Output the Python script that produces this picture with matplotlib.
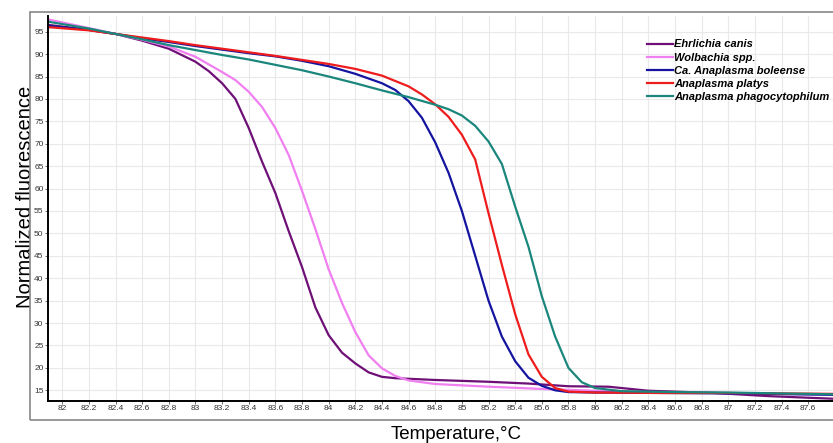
import numpy as np
import matplotlib
matplotlib.use('Agg')
import matplotlib.pyplot as plt
from matplotlib.patches import Rectangle

plt.rcParams['font.family'] = ['Liberation Sans', 'DejaVu Sans']

# melt curves
canis_t = [81.9, 82.2, 82.4, 82.6, 82.8, 83.0, 83.1, 83.2, 83.3, 83.4, 83.5, 83.6, 83.7, 83.8, 83.9,
           84.0, 84.1, 84.2, 84.3, 84.4, 84.5, 84.8, 85.2, 85.5, 85.8, 86.1, 86.4, 86.9, 87.3, 87.8]
canis_v = [96.5, 95.4, 94.5, 93.0, 91.2, 88.3, 86.2, 83.5, 80.0, 73.5, 66.0, 59.0, 50.5, 42.5, 33.5,
           27.3, 23.4, 21.0, 19.0, 18.0, 17.7, 17.3, 16.9, 16.5, 15.9, 15.8, 14.9, 14.4, 13.7, 13.1]

wolb_t = [81.9, 82.2, 82.4, 82.6, 82.8, 83.0, 83.2, 83.3, 83.4, 83.5, 83.6, 83.7, 83.8, 83.9, 84.0,
          84.1, 84.2, 84.3, 84.4, 84.5, 84.6, 84.8, 85.2, 85.6, 86.0, 86.4, 87.0, 87.8]
wolb_v = [97.7, 95.8, 94.5, 93.2, 91.7, 89.4, 86.0, 84.2, 81.6, 78.2, 73.5, 67.5, 59.5, 51.0, 42.0,
          34.5, 28.0, 22.8, 19.9, 18.2, 17.2, 16.4, 15.8, 15.3, 14.9, 14.6, 14.4, 14.0]

bol_t = [81.9, 82.2, 82.4, 82.6, 82.8, 83.0, 83.2, 83.4, 83.6, 83.8, 84.0, 84.2, 84.4, 84.5, 84.6,
         84.7, 84.8, 84.9, 85.0, 85.1, 85.2, 85.3, 85.4, 85.5, 85.6, 85.7, 85.8, 86.0, 86.5, 87.0, 87.8]
bol_v = [96.3, 95.4, 94.5, 93.5, 92.7, 91.8, 91.0, 90.2, 89.5, 88.5, 87.3, 85.6, 83.5, 82.0, 79.5,
         75.8, 70.3, 63.5, 55.0, 45.0, 35.0, 27.0, 21.5, 17.8, 16.0, 15.0, 14.6, 14.5, 14.4, 14.3, 14.0]

platys_t = [81.9, 82.2, 82.4, 82.6, 82.8, 83.0, 83.2, 83.4, 83.6, 83.8, 84.0, 84.2, 84.4, 84.6, 84.7,
            84.8, 84.9, 85.0, 85.1, 85.2, 85.3, 85.4, 85.5, 85.6, 85.7, 85.8, 86.0, 86.5, 87.0, 87.8]
platys_v = [96.0, 95.3, 94.5, 93.7, 92.9, 92.0, 91.2, 90.4, 89.6, 88.7, 87.8, 86.7, 85.2, 82.8, 81.0,
            78.8, 76.0, 72.0, 66.5, 54.5, 43.0, 32.0, 23.0, 18.0, 15.5, 14.7, 14.5, 14.4, 14.4, 14.2]

phago_t = [81.9, 82.2, 82.4, 82.6, 82.8, 83.0, 83.2, 83.4, 83.6, 83.8, 84.0, 84.2, 84.4, 84.6, 84.8,
           84.9, 85.0, 85.1, 85.2, 85.3, 85.4, 85.5, 85.6, 85.7, 85.8, 85.9, 86.0, 86.2, 86.6, 87.0, 87.4, 87.8]
phago_v = [97.2, 95.7, 94.5, 93.3, 92.0, 90.9, 89.8, 88.8, 87.6, 86.4, 85.0, 83.5, 81.9, 80.4, 78.7,
           77.7, 76.3, 74.0, 70.5, 65.5, 56.0, 47.0, 36.0, 27.0, 20.0, 16.8, 15.5, 14.8, 14.6, 14.5, 14.3, 14.1]

names = ['Ehrlichia canis', 'Wolbachia spp.', 'Ca. Anaplasma boleense', 'Anaplasma platys',
         'Anaplasma phagocytophilum']
colors = ['#6e1076', '#f07ff0', '#1414a0', '#ee1c1c', '#1a867c']

xticks = [82, 82.2, 82.4, 82.6, 82.8, 83, 83.2, 83.4, 83.6, 83.8, 84, 84.2, 84.4, 84.6, 84.8, 85,
          85.2, 85.4, 85.6, 85.8, 86, 86.2, 86.4, 86.6, 86.8, 87, 87.2, 87.4, 87.6]
yticks = [15, 20, 25, 30, 35, 40, 45, 50, 55, 60, 65, 70, 75, 80, 85, 90, 95]

fig = plt.figure(figsize=(8.33, 4.43), dpi=100)
ax = fig.add_axes([0.0576, 0.0948, 0.9424, 0.8691])

series = [(canis_t, canis_v), (wolb_t, wolb_v), (bol_t, bol_v), (platys_t, platys_v), (phago_t, phago_v)]
for (t, v), nm, c in zip(series, names, colors):
    ax.plot(t, v, color=c, lw=1.6, label=nm)

ax.set_xlim(81.893, 87.786)
ax.set_ylim(12.61, 98.5)
ax.set_xticks(xticks)
ax.set_xticklabels(['%g' % x for x in xticks])
ax.set_yticks(yticks)
ax.set_yticklabels([str(y) for y in yticks])
ax.tick_params(labelsize=6, colors='#555555', labelcolor='#333333', length=2, width=0.6, pad=1.2)
ax.grid(True, color='#e9e9e9', lw=0.8)
ax.set_axisbelow(True)

for s in ['top', 'right']:
    ax.spines[s].set_visible(False)
for s in ['left', 'bottom']:
    ax.spines[s].set_linewidth(1.4)
    ax.spines[s].set_color('black')

ax.set_ylabel('Normalized fluorescence', fontsize=14.5)
ax.yaxis.set_label_coords(-0.017, 0.53)
ax.set_xlabel('Temperature,\u00b0C', fontsize=13.5)
ax.xaxis.set_label_coords(0.52, -0.065)

leg = ax.legend(loc='upper left', bbox_to_anchor=(0.75, 0.965), frameon=False,
                handlelength=2.4, handletextpad=0.05, labelspacing=0.28,
                prop={'size': 8, 'weight': 'bold', 'style': 'italic'})

# outer frame around the figure
fig.patches.append(Rectangle((0.036, 0.052), 1.0, 0.921, transform=fig.transFigure,
                             fill=False, edgecolor='#888888', lw=1.2))

fig.savefig('out.png', dpi=100)
